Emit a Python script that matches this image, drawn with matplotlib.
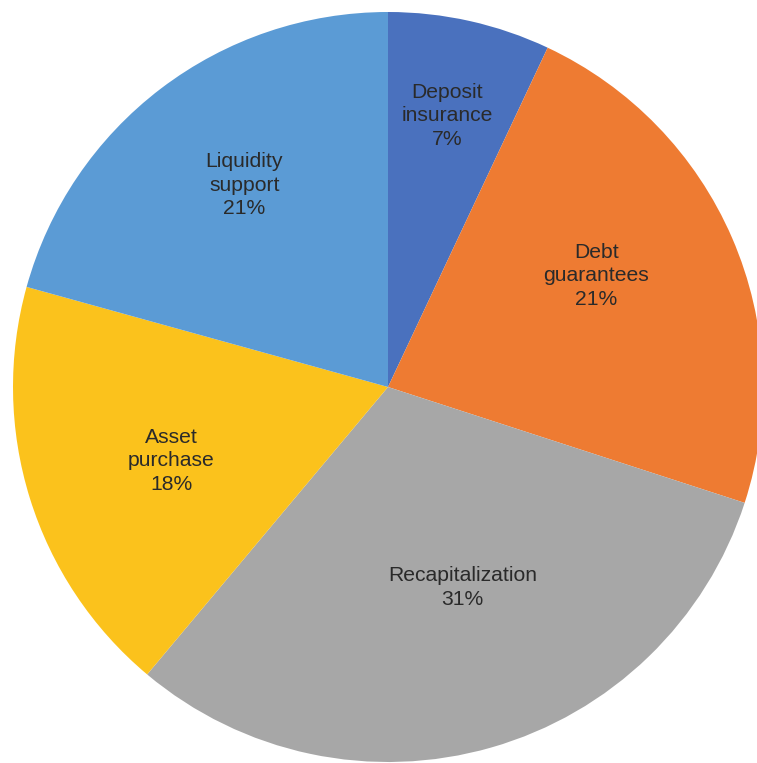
import numpy as np
import matplotlib
matplotlib.use("Agg")
from matplotlib import pyplot as plt

# slices, clockwise from 12 o'clock
names = ["Deposit\ninsurance", "Debt\nguarantees", "Recapitalization",
         "Asset\npurchase", "Liquidity\nsupport"]
shares = [7.0, 23.0, 31.1, 18.2, 20.7]
pct_text = ["7%", "21%", "31%", "18%", "21%"]
colors = ["#4a71be", "#ee7b32", "#a7a7a7", "#fbc21c", "#5b9bd5"]

# label placement (fraction of radius, angle offset in degrees)
lab_r = [0.74, 0.63, 0.57, 0.61, 0.66]
lab_dang = [0.3, 4.7, 4.4, 1.5, -1.8]

W, H = 757, 763
cx, cy, R = 388, 387, 375

fig = plt.figure(figsize=(W / 100, H / 100), dpi=100)
ax = fig.add_axes([0, 0, 1, 1])
ax.axis("off")

wedges, _ = ax.pie(shares, colors=colors, startangle=90, counterclock=False,
                   radius=1.0, wedgeprops=dict(linewidth=0))
ax.set_xlim(-cx / R, (W - cx) / R)
ax.set_ylim(-(H - cy) / R, cy / R)

for w, nm, pc, r, da in zip(wedges, names, pct_text, lab_r, lab_dang):
    mid = np.deg2rad((w.theta1 + w.theta2) / 2 + da)
    ax.text(r * np.cos(mid), r * np.sin(mid), nm + "\n" + pc,
            ha="center", va="center", fontsize=15.2, color="#2a2a2a",
            family="Liberation Sans", linespacing=1.3)

fig.savefig("out.png", dpi=100)
